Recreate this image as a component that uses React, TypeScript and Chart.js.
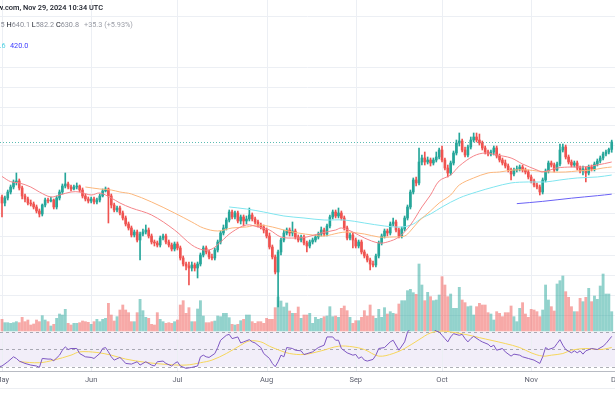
import React, { useEffect, useRef } from "react";
import { Chart, registerables } from "chart.js";
Chart.register(...registerables);

// TAO/USDT daily candles, day index 0 = May 1, 2024
const headerSource = "TradingView.com, Nov 29, 2024 10:34 UTC";
const monthLabels = ["May", "Jun", "Jul", "Aug", "Sep", "Oct", "Nov", "Dec"];
const monthDays = [0, 31, 61, 92, 123, 153, 184, 214];

const open = [
  410.8, 392.0, 407.6, 427.1, 444.1, 461.9, 465.5, 440.7, 414.0, 404.4,
  392.0, 389.0, 380.0, 368.3, 359.8, 385.9, 401.3, 398.2, 401.3, 380.0,
  407.6, 427.1, 447.6, 454.7, 444.1, 437.3, 444.1, 447.6, 433.8, 414.0,
  404.4, 398.2, 404.4, 395.1, 401.3, 414.0, 430.5, 437.3, 414.0, 385.9,
  371.2, 377.0, 362.6, 348.7, 332.8, 322.6, 305.4, 312.6, 293.7, 307.8,
  312.6, 317.5, 303.0, 289.2, 286.9, 282.5, 298.3, 303.0, 289.2, 282.5,
  273.8, 284.7, 276.0, 255.3, 243.6, 239.8, 236.1, 241.7, 236.1, 243.6,
  261.3, 276.0, 267.5, 257.3, 255.3, 271.7, 289.2, 310.2, 322.6, 343.3,
  365.4, 351.5, 362.6, 340.7, 351.5, 340.7, 346.0, 357.0, 346.0, 338.0,
  330.2, 325.1, 317.5, 303.0, 278.1, 257.3, 228.8, 267.5, 293.7, 310.2,
  317.5, 310.2, 315.1, 300.7, 293.7, 300.7, 286.9, 280.3, 289.2, 293.7,
  300.7, 307.8, 317.5, 307.8, 327.6, 351.5, 365.4, 354.2, 362.6, 348.7,
  322.6, 298.3, 305.4, 293.7, 280.3, 289.2, 267.5, 259.3, 251.3, 243.6,
  241.7, 259.3, 286.9, 303.0, 315.1, 310.2, 332.8, 338.0, 317.5, 303.0,
  320.0, 348.7, 380.0, 427.1, 469.1, 458.3, 539.7, 556.8, 539.7, 548.2,
  535.5, 548.2, 561.2, 592.6, 548.2, 515.0, 495.4, 535.5, 579.0, 625.9,
  635.8, 592.6, 570.0, 606.7, 640.7, 655.9, 640.7, 625.9, 602.0, 583.5,
  574.5, 583.5, 602.0, 565.6, 548.2, 535.5, 523.1, 507.1, 491.5, 507.1,
  511.0, 519.1, 507.1, 499.2, 480.2, 465.5, 451.1, 444.1, 427.1, 469.1,
  503.1, 535.5, 527.2, 507.1, 531.4, 592.6, 606.7, 561.2, 539.7, 527.2,
  535.5, 515.0, 503.1, 511.0, 495.4, 519.1, 511.0, 531.4, 543.9, 556.8,
  574.5, 583.5, 595.5,
];
const high = [
  417.2, 414.0, 433.8, 451.1, 469.1, 495.4, 472.8, 447.6, 420.5, 410.8,
  401.3, 395.1, 385.9, 374.1, 389.0, 407.6, 407.6, 410.8, 404.4, 414.0,
  433.8, 454.7, 495.4, 461.9, 451.1, 451.1, 458.3, 451.1, 440.7, 420.5,
  410.8, 410.8, 410.8, 407.6, 420.5, 437.3, 444.1, 440.7, 420.5, 392.0,
  382.9, 382.9, 368.3, 354.2, 338.0, 327.6, 317.5, 317.5, 312.6, 320.0,
  330.2, 322.6, 307.8, 293.7, 291.4, 303.0, 307.8, 307.8, 293.7, 286.9,
  289.2, 289.2, 280.3, 259.3, 247.4, 247.4, 247.4, 245.5, 247.4, 265.4,
  280.3, 280.3, 271.7, 263.3, 276.0, 293.7, 315.1, 330.2, 348.7, 371.2,
  371.2, 368.3, 368.3, 357.0, 357.0, 354.2, 377.0, 362.6, 351.5, 343.3,
  335.4, 330.2, 322.6, 310.2, 282.5, 261.3, 271.7, 298.3, 317.5, 322.6,
  322.6, 338.0, 320.0, 305.4, 305.4, 305.4, 291.4, 293.7, 298.3, 305.4,
  312.6, 325.1, 322.6, 332.8, 357.0, 371.2, 371.2, 377.0, 368.3, 354.2,
  327.6, 310.2, 310.2, 298.3, 293.7, 293.7, 271.7, 263.3, 255.3, 249.4,
  263.3, 291.4, 307.8, 320.0, 320.0, 338.0, 348.7, 343.3, 322.6, 325.1,
  354.2, 385.9, 433.8, 476.5, 480.2, 602.0, 570.0, 583.5, 561.2, 556.8,
  556.8, 583.5, 602.0, 611.4, 556.8, 527.2, 543.9, 588.0, 640.7, 676.7,
  645.8, 606.7, 616.2, 655.9, 676.7, 676.7, 671.4, 635.8, 611.4, 592.6,
  592.6, 611.4, 611.4, 574.5, 556.8, 548.2, 531.4, 515.0, 515.0, 523.1,
  527.2, 527.2, 515.0, 507.1, 487.7, 472.8, 458.3, 451.1, 476.5, 511.0,
  543.9, 543.9, 535.5, 539.7, 621.0, 621.0, 616.2, 570.0, 548.2, 543.9,
  543.9, 523.1, 523.1, 519.1, 527.2, 527.2, 539.7, 552.5, 565.6, 583.5,
  592.6, 602.0, 640.1,
];
const low = [
  351.5, 382.9, 401.3, 420.5, 437.3, 451.1, 433.8, 404.4, 395.1, 385.9,
  382.9, 374.1, 362.6, 351.5, 354.2, 380.0, 392.0, 395.1, 374.1, 374.1,
  401.3, 420.5, 440.7, 437.3, 430.5, 433.8, 437.3, 427.1, 407.6, 398.2,
  392.0, 392.0, 389.0, 389.0, 395.1, 410.8, 427.1, 335.4, 377.0, 365.4,
  365.4, 357.0, 343.3, 327.6, 317.5, 300.7, 300.7, 289.2, 251.3, 303.0,
  307.8, 298.3, 284.7, 280.3, 278.1, 278.1, 293.7, 284.7, 278.1, 269.6,
  269.6, 271.7, 251.3, 239.8, 232.4, 206.8, 230.6, 230.6, 218.4, 239.8,
  257.3, 263.3, 253.3, 251.3, 251.3, 267.5, 284.7, 305.4, 317.5, 338.0,
  346.0, 346.0, 335.4, 332.8, 327.6, 332.8, 340.7, 340.7, 332.8, 325.1,
  320.0, 310.2, 298.3, 273.8, 253.3, 225.3, 174.2, 261.3, 289.2, 305.4,
  303.0, 303.0, 296.0, 289.2, 289.2, 282.5, 267.5, 276.0, 284.7, 289.2,
  296.0, 303.0, 303.0, 303.0, 322.6, 346.0, 348.7, 348.7, 343.3, 317.5,
  293.7, 293.7, 276.0, 276.0, 276.0, 263.3, 255.3, 247.4, 232.4, 237.9,
  237.9, 255.3, 282.5, 298.3, 303.0, 305.4, 327.6, 312.6, 298.3, 298.3,
  315.1, 343.3, 374.1, 420.5, 447.6, 451.1, 527.2, 527.2, 531.4, 523.1,
  527.2, 539.7, 552.5, 539.7, 507.1, 480.2, 487.7, 527.2, 570.0, 611.4,
  583.5, 561.2, 561.2, 597.3, 630.8, 630.8, 616.2, 592.6, 574.5, 565.6,
  565.6, 570.0, 556.8, 539.7, 527.2, 515.0, 499.2, 469.1, 483.9, 499.2,
  503.1, 499.2, 491.5, 472.8, 458.3, 444.1, 437.3, 417.2, 420.5, 461.9,
  495.4, 519.1, 499.2, 503.1, 523.1, 583.5, 552.5, 531.4, 519.1, 519.1,
  507.1, 495.4, 487.7, 461.9, 487.7, 503.1, 503.1, 523.1, 535.5, 548.2,
  565.6, 574.5, 582.2,
];
const close = [
  392.0, 407.6, 427.1, 444.1, 461.9, 465.5, 440.7, 414.0, 404.4, 392.0,
  389.0, 380.0, 368.3, 359.8, 385.9, 401.3, 398.2, 401.3, 380.0, 407.6,
  427.1, 447.6, 454.7, 444.1, 437.3, 444.1, 447.6, 433.8, 414.0, 404.4,
  398.2, 404.4, 395.1, 401.3, 414.0, 430.5, 437.3, 414.0, 385.9, 371.2,
  377.0, 362.6, 348.7, 332.8, 322.6, 305.4, 312.6, 293.7, 307.8, 312.6,
  317.5, 303.0, 289.2, 286.9, 282.5, 298.3, 303.0, 289.2, 282.5, 273.8,
  284.7, 276.0, 255.3, 243.6, 239.8, 236.1, 241.7, 236.1, 243.6, 261.3,
  276.0, 267.5, 257.3, 255.3, 271.7, 289.2, 310.2, 322.6, 343.3, 365.4,
  351.5, 362.6, 340.7, 351.5, 340.7, 346.0, 357.0, 346.0, 338.0, 330.2,
  325.1, 317.5, 303.0, 278.1, 257.3, 228.8, 267.5, 293.7, 310.2, 317.5,
  310.2, 315.1, 300.7, 293.7, 300.7, 286.9, 280.3, 289.2, 293.7, 300.7,
  307.8, 317.5, 307.8, 327.6, 351.5, 365.4, 354.2, 362.6, 348.7, 322.6,
  298.3, 305.4, 293.7, 280.3, 289.2, 267.5, 259.3, 251.3, 243.6, 241.7,
  259.3, 286.9, 303.0, 315.1, 310.2, 332.8, 338.0, 317.5, 303.0, 320.0,
  348.7, 380.0, 427.1, 469.1, 458.3, 539.7, 556.8, 539.7, 548.2, 535.5,
  548.2, 561.2, 592.6, 548.2, 515.0, 495.4, 535.5, 579.0, 625.9, 635.8,
  592.6, 570.0, 606.7, 640.7, 655.9, 640.7, 625.9, 602.0, 583.5, 574.5,
  583.5, 602.0, 565.6, 548.2, 535.5, 523.1, 507.1, 491.5, 507.1, 511.0,
  519.1, 507.1, 499.2, 480.2, 465.5, 451.1, 444.1, 427.1, 469.1, 503.1,
  535.5, 527.2, 507.1, 531.4, 592.6, 606.7, 561.2, 539.7, 527.2, 535.5,
  515.0, 503.1, 511.0, 495.4, 519.1, 511.0, 531.4, 543.9, 556.8, 574.5,
  583.5, 595.5, 630.8,
];
// volume, thousands of TAO
const volume = [
  35, 25, 25, 23, 25, 28, 25, 41, 28, 33,
  18, 21, 33, 28, 46, 33, 28, 15, 20, 38,
  51, 48, 65, 23, 18, 23, 23, 25, 30, 28,
  26, 20, 28, 35, 28, 35, 38, 83, 48, 30,
  43, 63, 78, 63, 55, 28, 28, 55, 95, 61,
  41, 38, 20, 18, 55, 35, 28, 23, 25, 23,
  28, 33, 78, 91, 53, 70, 28, 28, 66, 91,
  45, 25, 25, 28, 30, 45, 43, 53, 53, 40,
  20, 18, 20, 31, 35, 48, 48, 28, 23, 28,
  28, 23, 38, 35, 35, 70, 102, 90, 72, 84,
  60, 53, 53, 72, 38, 48, 48, 53, 23, 41,
  35, 38, 43, 45, 73, 43, 45, 41, 68, 75,
  61, 41, 23, 31, 31, 41, 61, 45, 78, 45,
  38, 65, 41, 70, 51, 58, 53, 51, 81, 91,
  91, 121, 125, 115, 110, 201, 138, 91, 116, 103,
  91, 93, 108, 163, 138, 103, 111, 68, 68, 131,
  93, 85, 73, 75, 48, 73, 83, 78, 78, 55,
  51, 33, 58, 53, 43, 55, 55, 75, 43, 28,
  68, 85, 51, 41, 65, 63, 58, 43, 63, 138,
  93, 73, 60, 141, 151, 165, 118, 101, 73, 58,
  58, 98, 88, 101, 128, 88, 105, 95, 135, 171,
  111, 111, 58,
];

// moving averages (read at sample days)
const maRedDays = [0, 3, 6, 10, 13, 17, 20, 24, 27, 31, 34, 38, 41, 45, 52, 60, 66, 70, 73, 76, 80, 85, 89, 93, 97, 102, 106, 111, 116, 118, 122, 126, 131, 134, 138, 142, 146, 149, 152, 156, 159, 164, 168, 172, 177, 181, 186, 188, 193, 198, 202, 207, 212];
const maRedVals = [482.1, 463.0, 458.3, 444.1, 427.1, 410.8, 417.2, 427.1, 427.1, 417.2, 423.8, 407.6, 392.0, 377.0, 357.0, 317.5, 282.5, 271.7, 273.8, 289.2, 312.6, 330.2, 325.1, 317.5, 300.7, 298.3, 300.7, 310.2, 317.5, 322.6, 312.6, 298.3, 286.9, 289.2, 300.7, 330.2, 380.0, 417.2, 465.5, 487.7, 523.1, 565.6, 579.0, 570.0, 556.8, 531.4, 507.1, 499.2, 515.0, 519.1, 519.1, 527.2, 539.7];
const maOrangeDays = [29, 34, 38, 41, 45, 52, 60, 66, 70, 75, 80, 85, 89, 94, 98, 103, 108, 112, 117, 120, 126, 131, 136, 140, 142, 145, 149, 152, 156, 159, 164, 169, 173, 178, 183, 186, 191, 196, 200, 205, 209, 212];
const maOrangeVals = [444.1, 437.3, 433.8, 427.1, 420.5, 395.1, 362.6, 338.0, 322.6, 315.1, 322.6, 325.1, 330.2, 325.1, 317.5, 310.2, 305.4, 303.0, 310.2, 312.6, 307.8, 300.7, 300.7, 303.0, 315.1, 340.7, 368.3, 392.0, 417.2, 451.1, 476.5, 495.4, 499.2, 507.1, 507.1, 503.1, 499.2, 499.2, 503.1, 507.1, 515.0, 519.1];
const maCyanDays = [79, 85, 91, 98, 105, 112, 119, 126, 133, 139, 143, 146, 149, 153, 159, 165, 171, 177, 183, 189, 194, 200, 207, 212];
const maCyanVals = [380.0, 374.1, 365.4, 354.2, 348.7, 343.3, 343.3, 335.4, 327.6, 325.1, 332.8, 348.7, 359.8, 380.0, 407.6, 427.1, 444.1, 458.3, 461.9, 461.9, 469.1, 476.5, 480.2, 487.6];
const maBlueDays = [179, 188, 198, 207, 212];
const maBlueVals = [390.0, 397.0, 407.0, 415.0, 420.0];

// RSI 14 and its moving average (read at sample days)
const rsiDays = [-1, 0, 2, 4, 5, 6, 8, 10, 12, 13, 14, 16, 17, 18, 20, 21, 22, 23, 24, 26, 27, 29, 31, 32, 34, 35, 36, 37, 38, 39, 41, 42, 43, 45, 47, 48, 49, 50, 52, 53, 54, 56, 57, 59, 60, 61, 62, 64, 66, 68, 69, 70, 71, 72, 74, 75, 76, 78, 79, 80, 82, 83, 84, 86, 87, 88, 90, 91, 93, 94, 95, 96, 97, 98, 99, 101, 102, 104, 105, 106, 108, 110, 112, 113, 115, 116, 117, 118, 120, 122, 123, 124, 125, 126, 127, 129, 130, 131, 133, 135, 136, 138, 140, 141, 142, 144, 145, 147, 149, 151, 152, 153, 154, 155, 156, 157, 159, 160, 161, 162, 163, 164, 166, 167, 169, 170, 171, 172, 174, 175, 177, 178, 180, 181, 183, 185, 186, 187, 188, 189, 190, 192, 193, 194, 195, 196, 198, 199, 200, 201, 202, 203, 205, 207, 209, 210, 212];
const rsiVals = [30, 30.8, 35.7, 41.4, 39.5, 36.5, 33.8, 31.9, 30.8, 29.2, 39.5, 38.8, 38.8, 36.9, 43.3, 49, 52.9, 49.8, 51, 51, 45.2, 41.4, 40.7, 39.5, 45.2, 51, 52.1, 47.1, 41.4, 37.6, 40.7, 37.6, 33.8, 33, 35.7, 31.9, 33.8, 35.7, 31.9, 30.8, 35.7, 36.5, 33.8, 30.8, 33.8, 35.7, 30.8, 28.1, 29.2, 30.8, 41.4, 43.3, 41.4, 40.7, 45.2, 52.1, 60.5, 66.2, 67.3, 62.4, 64.3, 57.4, 58.6, 61.2, 58.6, 57.4, 52.1, 45.2, 39.5, 33.8, 30, 35.7, 43.3, 41.4, 52.1, 51, 49, 48.3, 44, 45, 47.1, 52.1, 54.8, 64.3, 64.3, 60.5, 60.5, 51, 46, 43.3, 44.1, 39.5, 41.4, 37.6, 36.5, 38.4, 43.3, 51, 52.1, 58.6, 60.5, 49, 58.6, 70, 73.8, 77.6, 81.4, 77.6, 75.7, 71.1, 70, 66.2, 62.4, 58.6, 64.3, 68.1, 66.2, 67.3, 62.4, 58.6, 62.4, 65, 60.5, 58.6, 55.9, 52.9, 54.8, 49, 51, 47.1, 42.2, 44.5, 43.3, 41.4, 39.5, 37.6, 35.7, 33.8, 41.4, 52.1, 49.8, 52.1, 56.7, 61.2, 54.8, 49.8, 46, 48.3, 46, 48.3, 44.5, 48.3, 51, 49.8, 53.6, 56.7, 65];
const rsiMaDays = [6, 13, 18, 24, 27, 33, 38, 43, 50, 57, 64, 69, 73, 78, 83, 86, 90, 93, 97, 100, 105, 111, 117, 122, 126, 131, 136, 140, 145, 149, 153, 156, 161, 166, 170, 175, 180, 184, 188, 191, 195, 198, 203, 208, 212];
const rsiMaVals = [35.7, 34.6, 37.6, 43.3, 47.1, 46.4, 43.3, 38.8, 35, 32.7, 31.9, 34.6, 37.6, 45.2, 54.8, 59.7, 58.6, 53.6, 48.3, 45.2, 44.1, 48.3, 53.6, 52.9, 49.8, 42.2, 45.2, 51, 61.2, 68.9, 71.1, 70, 67.3, 63.5, 60.5, 56.7, 52.1, 46, 42.2, 43.3, 45.2, 49, 51, 49.8, 52.1];
const rsiLevels = [70, 50, 30];

// price grid levels (log scale)
const gridPrices = [1690, 1130, 970, 830, 720, 614, 500, 424, 363, 303, 261, 224, 191, 164];

const UP = "#26a69a";
const DOWN = "#ef5350";
const UP_VOL = "rgba(38,166,154,0.5)";
const DOWN_VOL = "rgba(239,83,80,0.5)";
const FONT = "Roboto, 'DejaVu Sans', sans-serif";

const pts = (ds: number[], vs: number[]) => ds.map((d, i) => ({ x: d, y: vs[i] }));

const overlayPlugin = {
  id: "tvOverlay",
  beforeDatasetsDraw(chart: any) {
    const { ctx, scales, chartArea } = chart;
    const W = chart.width;
    const xs = scales.x, ys = scales.y, yr = scales.yr, yv = scales.yv;
    ctx.save();
    const y70 = yr.getPixelForValue(70);
    const y30 = yr.getPixelForValue(30);
    ctx.fillStyle = "rgba(126,87,194,0.1)";
    ctx.fillRect(0, y70, W, y30 - y70);

    ctx.strokeStyle = "#eceff4";
    ctx.lineWidth = 1;
    ctx.beginPath();
    monthDays.forEach((d) => {
      const px = Math.round(xs.getPixelForValue(d)) + 0.5;
      ctx.moveTo(px, 0);
      ctx.lineTo(px, chartArea.bottom);
    });
    const paneBottom = yv.getPixelForValue(0);
    gridPrices.forEach((p) => {
      const py = Math.round(ys.getPixelForValue(p)) + 0.5;
      if (py < paneBottom) {
        ctx.moveTo(0, py);
        ctx.lineTo(W, py);
      }
    });
    ctx.stroke();

    ctx.setLineDash([3, 3]);
    ctx.strokeStyle = "rgba(120,123,134,0.6)";
    ctx.beginPath();
    rsiLevels.forEach((v) => {
      const py = Math.round(yr.getPixelForValue(v)) + 0.5;
      ctx.moveTo(0, py);
      ctx.lineTo(W, py);
    });
    ctx.stroke();

    ctx.setLineDash([1, 2]);
    ctx.strokeStyle = "rgba(38,166,154,0.75)";
    const lp = Math.round(ys.getPixelForValue(close[close.length - 1])) + 0.5;
    ctx.beginPath();
    ctx.moveTo(0, lp);
    ctx.lineTo(W, lp);
    ctx.stroke();
    ctx.restore();
  },
  afterDraw(chart: any) {
    const { ctx, scales, chartArea } = chart;
    const W = chart.width;
    const xs = scales.x;
    ctx.save();
    // time axis
    ctx.fillStyle = "#b8bbc3";
    ctx.fillRect(0, Math.round(chartArea.bottom) - 1, W, 1);
    ctx.fillStyle = "#eceef2";
    ctx.fillRect(0, 388, W, 1);
    ctx.font = `7.5px ${FONT}`;
    ctx.fillStyle = "#5f6270";
    ctx.textAlign = "center";
    ctx.textBaseline = "middle";
    monthLabels.forEach((m, i) => {
      ctx.fillText(m, xs.getPixelForValue(monthDays[i]), 380);
    });

    // header line 1
    ctx.font = `500 7.4px ${FONT}`;
    ctx.fillStyle = "#131722";
    ctx.textAlign = "right";
    ctx.fillText(headerSource, 103, 8);

    // header line 2: OHLC
    const n = close.length - 1;
    const chg = close[n] - close[n - 1];
    const pct = (chg / close[n - 1]) * 100;
    const dark = "#131722";
    const val = "#8b8e98";
    ctx.font = `7.3px ${FONT}`;
    ctx.textAlign = "left";
    const segs: [string, string][] = [
      ["O", dark], [open[n].toFixed(1), val], [" H", dark], [high[n].toFixed(1), val],
      [" L", dark], [low[n].toFixed(1), val], [" C", dark], [close[n].toFixed(1), val],
    ];
    const prefixW = ctx.measureText("O" + open[n].toFixed(1)).width;
    let x = 6.5 - ctx.measureText(" ").width - prefixW;
    segs.forEach(([t, c]) => {
      ctx.fillStyle = c;
      ctx.fillText(t, x, 25);
      x += ctx.measureText(t).width;
    });
    ctx.fillStyle = "#9a9da6";
    ctx.fillText(`${chg >= 0 ? "+" : ""}${chg.toFixed(1)} (${chg >= 0 ? "+" : ""}${pct.toFixed(2)}%)`, x + 5, 25);

    // header line 3: MA values
    ctx.textAlign = "right";
    ctx.fillStyle = "#4dd0e1";
    ctx.fillText(maCyanVals[maCyanVals.length - 1].toFixed(1), 5.5, 46.5);
    ctx.textAlign = "left";
    ctx.fillStyle = "#3d3dff";
    ctx.fillText(maBlueVals[maBlueVals.length - 1].toFixed(1), 10, 46.5);
    ctx.restore();
  },
};

export default function App() {
  const ref = useRef<HTMLCanvasElement>(null);
  useEffect(() => {
    const canvas = ref.current;
    if (!canvas) return;
    const dayIdx = close.map((_, i) => i);
    const isUp = dayIdx.map((i) => close[i] >= open[i]);
    const candleColors = isUp.map((u) => (u ? UP : DOWN));
    const volColors = isUp.map((u) => (u ? UP_VOL : DOWN_VOL));

    const chart = new Chart(canvas, {
      type: "bar",
      data: {
        datasets: [
          {
            type: "line", label: "RSI", yAxisID: "yr", data: pts(rsiDays, rsiVals),
            borderColor: "#7e57c2", borderWidth: 1, pointRadius: 0, tension: 0,
            clip: { left: 0, right: 0, bottom: 0, top: -330 } as any, order: 0,
          },
          {
            type: "line", label: "RSI MA", yAxisID: "yr", data: pts(rsiMaDays, rsiMaVals),
            borderColor: "#f6d65a", borderWidth: 1, pointRadius: 0, tension: 0.35,
            clip: { left: 0, right: 0, bottom: 0, top: -330 } as any, order: 1,
          },
          {
            type: "line", label: "MA20", yAxisID: "y", data: pts(maRedDays, maRedVals),
            borderColor: "#f58489", borderWidth: 1, pointRadius: 0, tension: 0.35, order: 2,
          },
          {
            type: "line", label: "MA50", yAxisID: "y", data: pts(maOrangeDays, maOrangeVals),
            borderColor: "#fcb77c", borderWidth: 1, pointRadius: 0, tension: 0.35, order: 2,
          },
          {
            type: "line", label: "MA100", yAxisID: "y", data: pts(maCyanDays, maCyanVals),
            borderColor: "#80e5ef", borderWidth: 1, pointRadius: 0, tension: 0.35, order: 2,
          },
          {
            type: "line", label: "MA200", yAxisID: "y", data: pts(maBlueDays, maBlueVals),
            borderColor: "#6a62f5", borderWidth: 1, pointRadius: 0, tension: 0.35, order: 2,
          },
          {
            type: "bar", label: "body", yAxisID: "y",
            data: dayIdx.map((i) => ({ x: i, y: [open[i], close[i]] })) as any,
            backgroundColor: candleColors, borderWidth: 0, barThickness: 2,
            minBarLength: 1, grouped: false, order: 4,
          },
          {
            type: "bar", label: "wick", yAxisID: "y",
            data: dayIdx.map((i) => ({ x: i, y: [low[i], high[i]] })) as any,
            backgroundColor: candleColors, borderWidth: 0, barThickness: 1,
            grouped: false, order: 5,
          },
          {
            type: "bar", label: "volume", yAxisID: "yv",
            data: dayIdx.map((i) => ({ x: i, y: volume[i] })) as any,
            backgroundColor: volColors, borderWidth: 0, barThickness: 2.2,
            grouped: false, order: 6,
          },
        ],
      },
      options: {
        animation: false,
        responsive: false,
        devicePixelRatio: 1,
        events: [],
        layout: { padding: { left: 0, right: 0, top: 0, bottom: 38 } },
        plugins: { legend: { display: false }, tooltip: { enabled: false } },
        scales: {
          x: { type: "linear", min: -0.695, max: 213.14, display: false, offset: false, bounds: "data" },
          y: { type: "logarithmic", min: 104.9, max: 1909.5, display: false, bounds: "data", beginAtZero: false } as any,
          yv: { type: "linear", min: -123, max: 993, display: false, bounds: "data" },
          yr: { type: "linear", min: 23.9, max: 452.7, display: false, bounds: "data" },
        },
      },
      plugins: [overlayPlugin],
    } as any);
    return () => chart.destroy();
  }, []);

  return (
    <div style={{ position: "fixed", left: 0, top: 0, width: 615, height: 410, background: "#ffffff" }}>
      <canvas ref={ref} width={615} height={410} style={{ display: "block", width: 615, height: 410 }} />
    </div>
  );
}
